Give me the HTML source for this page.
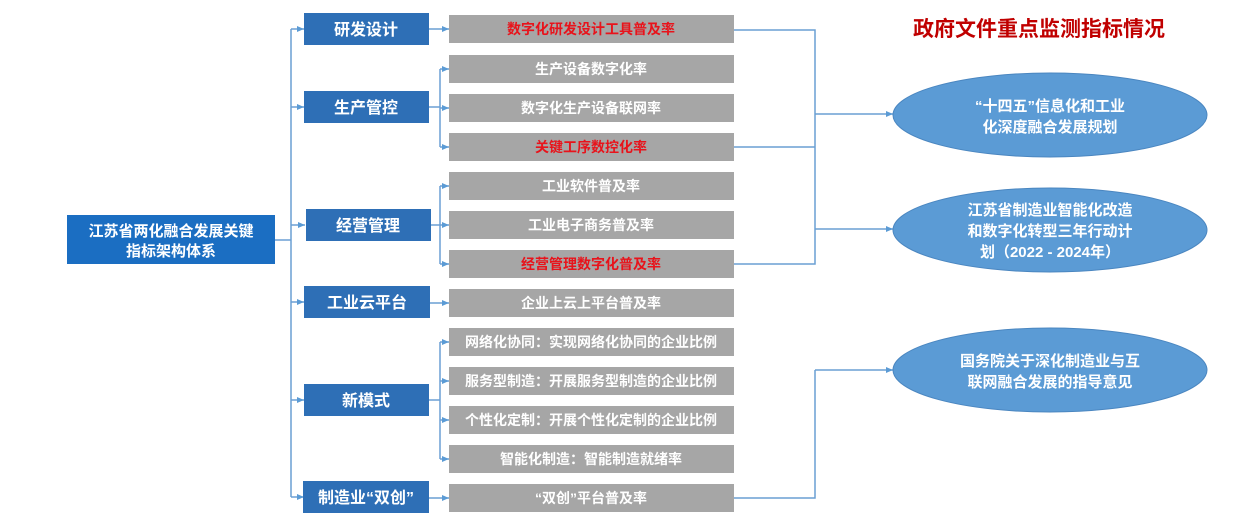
<!DOCTYPE html>
<html><head><meta charset="utf-8"><style>
html,body{margin:0;padding:0;background:#fff;}
svg{display:block;}
text{font-family:"Liberation Sans","Noto Sans CJK SC",sans-serif;font-weight:bold;}
</style></head><body>
<svg width="1254" height="522" viewBox="0 0 1254 522" xmlns="http://www.w3.org/2000/svg">
<defs>
<marker id="a" markerWidth="8" markerHeight="8" refX="7" refY="4" orient="auto" markerUnits="userSpaceOnUse">
<path d="M0,1 L7,4 L0,7 Z" fill="#5b9bd5"/></marker>
</defs>
<g stroke="#6a9fd4" stroke-width="1.5" fill="none">
<line x1="275" y1="240" x2="291" y2="240"/>
<line x1="291" y1="29" x2="291" y2="497"/>
<line x1="291" y1="29" x2="304" y2="29" marker-end="url(#a)"/>
<line x1="291" y1="107" x2="304" y2="107" marker-end="url(#a)"/>
<line x1="291" y1="225" x2="305" y2="225" marker-end="url(#a)"/>
<line x1="291" y1="302" x2="304" y2="302" marker-end="url(#a)"/>
<line x1="291" y1="400" x2="304" y2="400" marker-end="url(#a)"/>
<line x1="291" y1="497" x2="304" y2="497" marker-end="url(#a)"/>
<line x1="429" y1="29" x2="449" y2="29" marker-end="url(#a)"/>
<line x1="429" y1="107" x2="440" y2="107"/>
<line x1="440" y1="69" x2="440" y2="147"/>
<line x1="440" y1="69" x2="449" y2="69" marker-end="url(#a)"/>
<line x1="440" y1="108" x2="449" y2="108" marker-end="url(#a)"/>
<line x1="440" y1="147" x2="449" y2="147" marker-end="url(#a)"/>
<line x1="431" y1="225" x2="440" y2="225"/>
<line x1="440" y1="186" x2="440" y2="264"/>
<line x1="440" y1="186" x2="449" y2="186" marker-end="url(#a)"/>
<line x1="440" y1="225" x2="449" y2="225" marker-end="url(#a)"/>
<line x1="440" y1="264" x2="449" y2="264" marker-end="url(#a)"/>
<line x1="430" y1="303" x2="449" y2="303" marker-end="url(#a)"/>
<line x1="429" y1="400" x2="440" y2="400"/>
<line x1="440" y1="342" x2="440" y2="459"/>
<line x1="440" y1="342" x2="449" y2="342" marker-end="url(#a)"/>
<line x1="440" y1="381" x2="449" y2="381" marker-end="url(#a)"/>
<line x1="440" y1="420" x2="449" y2="420" marker-end="url(#a)"/>
<line x1="440" y1="459" x2="449" y2="459" marker-end="url(#a)"/>
<line x1="429" y1="498" x2="449" y2="498" marker-end="url(#a)"/>
<polyline points="734,30 815,30 815,264 734,264"/>
<line x1="734" y1="147" x2="815" y2="147"/>
<line x1="815" y1="114" x2="893" y2="114" marker-end="url(#a)"/>
<line x1="815" y1="229" x2="893" y2="229" marker-end="url(#a)"/>
<polyline points="734,498 815,498 815,370"/>
<line x1="815" y1="370" x2="893" y2="370" marker-end="url(#a)"/>
</g>
<rect x="67" y="215" width="208" height="49" fill="#1b6ec2"/>
<text x="171" y="236" font-size="15" fill="#fff" text-anchor="middle">江苏省两化融合发展关键</text>
<text x="171" y="256" font-size="15" fill="#fff" text-anchor="middle">指标架构体系</text>
<g fill="#2e6fb6">
<rect x="304" y="13" width="125" height="32"/>
<rect x="304" y="91" width="125" height="32"/>
<rect x="306" y="209" width="125" height="32"/>
<rect x="304" y="286" width="126" height="32"/>
<rect x="304" y="384" width="125" height="32"/>
<rect x="303" y="481" width="126" height="32"/>
</g>
<g font-size="16" fill="#fff" text-anchor="middle">
<text x="366" y="35">研发设计</text>
<text x="366" y="113">生产管控</text>
<text x="368" y="231">经营管理</text>
<text x="367" y="308">工业云平台</text>
<text x="366" y="406">新模式</text>
<text x="366" y="503">制造业“双创”</text>
</g>
<g fill="#a6a6a6">
<rect x="449" y="15" width="285" height="28"/>
<rect x="449" y="55" width="285" height="28"/>
<rect x="449" y="94" width="285" height="28"/>
<rect x="449" y="133" width="285" height="28"/>
<rect x="449" y="172" width="285" height="28"/>
<rect x="449" y="211" width="285" height="28"/>
<rect x="449" y="250" width="285" height="28"/>
<rect x="449" y="289" width="285" height="28"/>
<rect x="449" y="328" width="285" height="28"/>
<rect x="449" y="367" width="285" height="28"/>
<rect x="449" y="406" width="285" height="28"/>
<rect x="449" y="445" width="285" height="28"/>
<rect x="449" y="484" width="285" height="28"/>
</g>
<g font-size="14" fill="#fff" text-anchor="middle">
<text x="591" y="34" fill="#e8131b">数字化研发设计工具普及率</text>
<text x="591" y="74">生产设备数字化率</text>
<text x="591" y="113">数字化生产设备联网率</text>
<text x="591" y="152" fill="#e8131b">关键工序数控化率</text>
<text x="591" y="191">工业软件普及率</text>
<text x="591" y="230">工业电子商务普及率</text>
<text x="591" y="269" fill="#e8131b">经营管理数字化普及率</text>
<text x="591" y="308">企业上云上平台普及率</text>
<text x="591" y="347">网络化协同：实现网络化协同的企业比例</text>
<text x="591" y="386">服务型制造：开展服务型制造的企业比例</text>
<text x="591" y="425">个性化定制：开展个性化定制的企业比例</text>
<text x="591" y="464">智能化制造：智能制造就绪率</text>
<text x="591" y="503">“双创”平台普及率</text>
</g>
<text x="1039" y="36" font-size="21" fill="#c00000" text-anchor="middle">政府文件重点监测指标情况</text>
<g fill="#5b9bd5" stroke="#4a86c0" stroke-width="1">
<ellipse cx="1050" cy="115" rx="157" ry="42"/>
<ellipse cx="1050" cy="230" rx="157" ry="42"/>
<ellipse cx="1050" cy="370" rx="157" ry="42"/>
</g>
<g font-size="15" fill="#fff" text-anchor="middle">
<text x="1050" y="111">“十四五”信息化和工业</text>
<text x="1050" y="132">化深度融合发展规划</text>
<text x="1050" y="215">江苏省制造业智能化改造</text>
<text x="1050" y="236">和数字化转型三年行动计</text>
<text x="1050" y="257">划（2022 - 2024年）</text>
<text x="1050" y="366">国务院关于深化制造业与互</text>
<text x="1050" y="387">联网融合发展的指导意见</text>
</g>
</svg>
</body></html>
